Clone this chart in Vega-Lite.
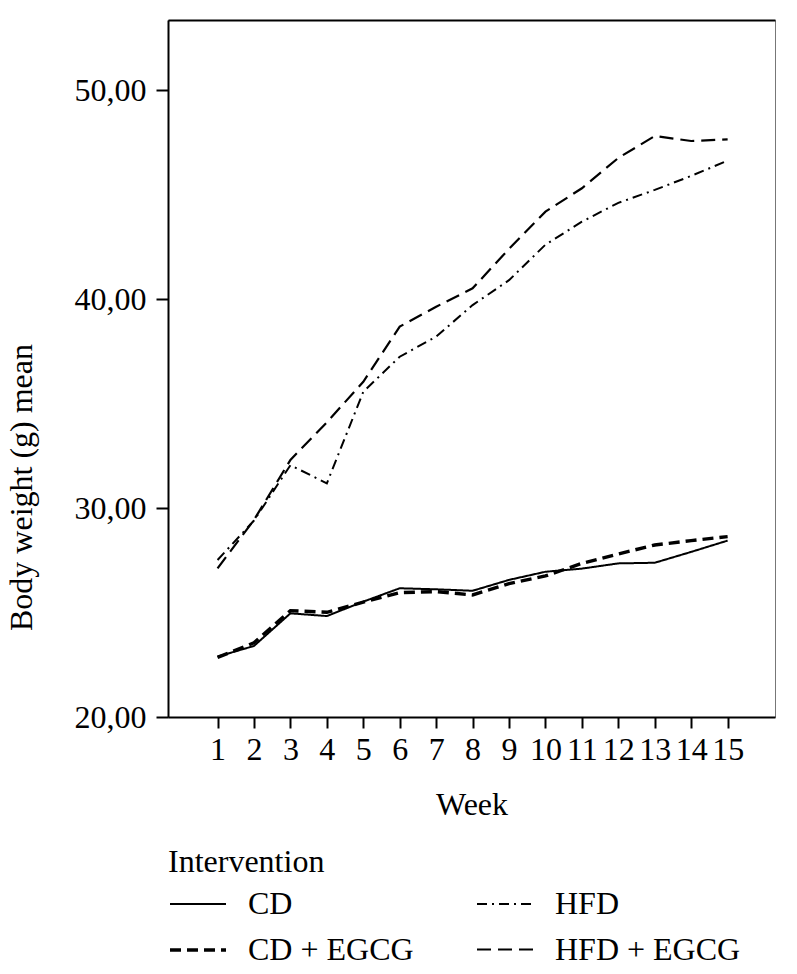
{
  "$schema": "https://vega.github.io/schema/vega-lite/v6.json",
  "autosize": {"type": "none"},
  "padding": {"left": 168, "top": 20, "right": 22, "bottom": 257},
  "width": 607,
  "height": 697,
  "background": "white",
  "config": {
    "font": "Liberation Serif",
    "view": {"stroke": "#777777", "strokeWidth": 1},
    "axis": {"grid": false, "domainColor": "black", "tickColor": "black", "labelColor": "black", "titleColor": "black", "labelFont": "Liberation Serif", "titleFont": "Liberation Serif", "titleFontWeight": "normal"},
    "legend": {"labelFont": "Liberation Serif", "titleFont": "Liberation Serif", "titleFontWeight": "normal"}
  },
  "data": {
    "values": [
      {"week": 1, "group": "CD", "weight": 22.89},
      {"week": 2, "group": "CD", "weight": 23.40},
      {"week": 3, "group": "CD", "weight": 24.96},
      {"week": 4, "group": "CD", "weight": 24.83},
      {"week": 5, "group": "CD", "weight": 25.52},
      {"week": 6, "group": "CD", "weight": 26.16},
      {"week": 7, "group": "CD", "weight": 26.11},
      {"week": 8, "group": "CD", "weight": 26.04},
      {"week": 9, "group": "CD", "weight": 26.56},
      {"week": 10, "group": "CD", "weight": 26.95},
      {"week": 11, "group": "CD", "weight": 27.10},
      {"week": 12, "group": "CD", "weight": 27.35},
      {"week": 13, "group": "CD", "weight": 27.38},
      {"week": 14, "group": "CD", "weight": 27.90},
      {"week": 15, "group": "CD", "weight": 28.44},
      {"week": 1, "group": "CD + EGCG", "weight": 22.85},
      {"week": 2, "group": "CD + EGCG", "weight": 23.55},
      {"week": 3, "group": "CD + EGCG", "weight": 25.09},
      {"week": 4, "group": "CD + EGCG", "weight": 25.01},
      {"week": 5, "group": "CD + EGCG", "weight": 25.50},
      {"week": 6, "group": "CD + EGCG", "weight": 25.95},
      {"week": 7, "group": "CD + EGCG", "weight": 26.00},
      {"week": 8, "group": "CD + EGCG", "weight": 25.84},
      {"week": 9, "group": "CD + EGCG", "weight": 26.38},
      {"week": 10, "group": "CD + EGCG", "weight": 26.75},
      {"week": 11, "group": "CD + EGCG", "weight": 27.35},
      {"week": 12, "group": "CD + EGCG", "weight": 27.80},
      {"week": 13, "group": "CD + EGCG", "weight": 28.23},
      {"week": 14, "group": "CD + EGCG", "weight": 28.44},
      {"week": 15, "group": "CD + EGCG", "weight": 28.63},
      {"week": 1, "group": "HFD", "weight": 27.51},
      {"week": 2, "group": "HFD", "weight": 29.40},
      {"week": 3, "group": "HFD", "weight": 32.05},
      {"week": 4, "group": "HFD", "weight": 31.18},
      {"week": 5, "group": "HFD", "weight": 35.56},
      {"week": 6, "group": "HFD", "weight": 37.24},
      {"week": 7, "group": "HFD", "weight": 38.20},
      {"week": 8, "group": "HFD", "weight": 39.71},
      {"week": 9, "group": "HFD", "weight": 40.90},
      {"week": 10, "group": "HFD", "weight": 42.60},
      {"week": 11, "group": "HFD", "weight": 43.70},
      {"week": 12, "group": "HFD", "weight": 44.60},
      {"week": 13, "group": "HFD", "weight": 45.22},
      {"week": 14, "group": "HFD", "weight": 45.89},
      {"week": 15, "group": "HFD", "weight": 46.62},
      {"week": 1, "group": "HFD + EGCG", "weight": 27.11},
      {"week": 2, "group": "HFD + EGCG", "weight": 29.43},
      {"week": 3, "group": "HFD + EGCG", "weight": 32.30},
      {"week": 4, "group": "HFD + EGCG", "weight": 34.10},
      {"week": 5, "group": "HFD + EGCG", "weight": 36.04},
      {"week": 6, "group": "HFD + EGCG", "weight": 38.68},
      {"week": 7, "group": "HFD + EGCG", "weight": 39.63},
      {"week": 8, "group": "HFD + EGCG", "weight": 40.51},
      {"week": 9, "group": "HFD + EGCG", "weight": 42.40},
      {"week": 10, "group": "HFD + EGCG", "weight": 44.18},
      {"week": 11, "group": "HFD + EGCG", "weight": 45.30},
      {"week": 12, "group": "HFD + EGCG", "weight": 46.75},
      {"week": 13, "group": "HFD + EGCG", "weight": 47.80},
      {"week": 14, "group": "HFD + EGCG", "weight": 47.56},
      {"week": 15, "group": "HFD + EGCG", "weight": 47.64}
    ]
  },
  "layer": [
    {
      "mark": {"type": "line", "color": "black"},
      "encoding": {
        "x": {
          "field": "week", "type": "quantitative",
          "scale": {"domain": [-0.36, 16.3], "nice": false, "zero": false},
          "axis": {
            "title": "Week", "values": [1,2,3,4,5,6,7,8,9,10,11,12,13,14,15],
            "domainWidth": 2, "tickWidth": 2, "tickSize": 11, "labelFontSize": 32, "titleFontSize": 32,
            "labelPadding": 6, "titlePadding": 24, "labelFlush": false, "labelOverlap": false
          }
        },
        "y": {
          "field": "weight", "type": "quantitative",
          "scale": {"domain": [20, 53.35], "nice": false, "zero": false},
          "axis": {
            "title": "Body weight (g) mean", "values": [20, 30, 40, 50],
            "labelExpr": "replace(format(datum.value, '.2f'), '.', ',')",
            "domainWidth": 2, "tickWidth": 2, "tickSize": 12, "labelFontSize": 32, "titleFontSize": 32,
            "labelPadding": 10, "titleX": -130, "titleY": 467, "labelFlush": false
          }
        },
        "strokeDash": {
          "field": "group", "type": "nominal",
          "scale": {"domain": ["CD", "CD + EGCG", "HFD", "HFD + EGCG"], "range": [[1, 0], [11, 6], [10, 5, 2, 5], [14, 7]]},
          "legend": {
            "title": "Intervention", "orient": "none", "legendX": 0, "legendY": 827, "columns": 2,
            "symbolType": "stroke", "symbolSize": 3136, "symbolStrokeColor": "black",
            "labelFontSize": 32, "titleFontSize": 32, "labelOffset": 20, "columnPadding": 58,
            "rowPadding": -8, "titlePadding": -4, "labelColor": "black", "titleColor": "black", "labelLimit": 0
          }
        },
        "strokeWidth": {
          "field": "group", "type": "nominal",
          "scale": {"type": "ordinal", "domain": ["CD", "CD + EGCG", "HFD", "HFD + EGCG"], "range": [2, 3.4, 2, 2.2]},
          "legend": {
            "title": "Intervention", "orient": "none", "legendX": 0, "legendY": 827, "columns": 2,
            "symbolType": "stroke", "symbolSize": 3136, "symbolStrokeColor": "black",
            "labelFontSize": 32, "titleFontSize": 32, "labelOffset": 20, "columnPadding": 58,
            "rowPadding": -8, "titlePadding": -4, "labelColor": "black", "titleColor": "black", "labelLimit": 0
          }
        }
      }
    },
    {
      "mark": {"type": "point", "opacity": 0},
      "encoding": {
        "x": {
          "field": "week", "type": "quantitative",
          "axis": {"orient": "top", "labels": false, "ticks": false, "title": null, "domainWidth": 2}
        }
      }
    }
  ],
  "resolve": {"axis": {"x": "independent"}}
}
